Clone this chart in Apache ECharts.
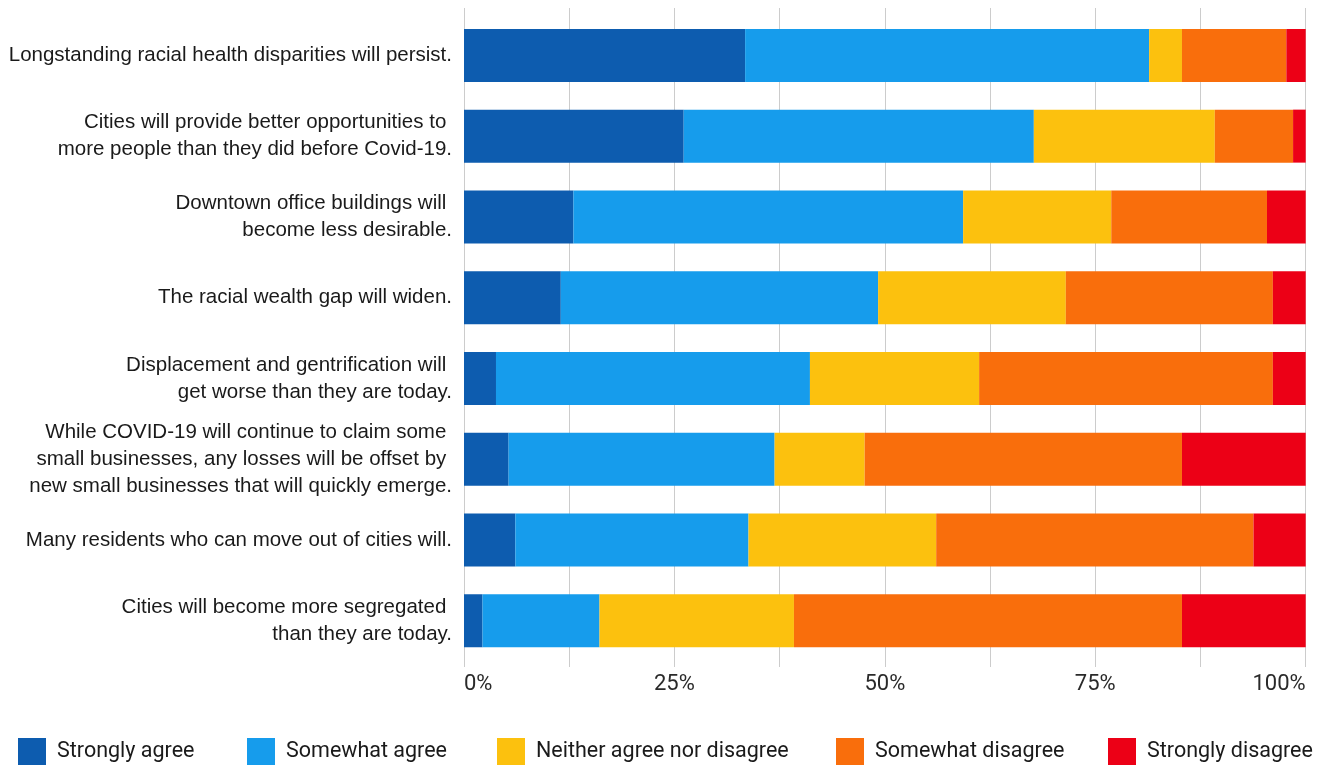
<!DOCTYPE html>
<html>
<head>
<meta charset="utf-8">
<script src="https://cdn.jsdelivr.net/npm/echarts@6/dist/echarts.min.js"></script>
<style>
html,body{margin:0;padding:0;background:#fff;}
#chart{width:1331px;height:765px;}
</style>
</head>
<body>
<div id="chart"></div>
<script>
const categories = [
  "Longstanding racial health disparities will persist.",
  "Cities will provide better opportunities to \nmore people than they did before Covid-19.",
  "Downtown office buildings will \nbecome less desirable.",
  "The racial wealth gap will widen.",
  "Displacement and gentrification will \nget worse than they are today.",
  "While COVID-19 will continue to claim some \nsmall businesses, any losses will be offset by \nnew small businesses that will quickly emerge.",
  "Many residents who can move out of cities will.",
  "Cities will become more segregated \nthan they are today."
];
const seriesNames = ["Strongly agree", "Somewhat agree", "Neither agree nor disagree", "Somewhat disagree", "Strongly disagree"];
const stronglyAgree    = [33.4, 26.1, 13.0, 11.5, 3.8, 5.3, 6.1, 2.2];
const somewhatAgree    = [48.0, 41.6, 46.3, 37.7, 37.3, 31.6, 27.7, 13.9];
const neither          = [3.9, 21.5, 17.6, 22.3, 20.1, 10.7, 22.3, 23.1];
const somewhatDisagree = [12.4, 9.3, 18.5, 24.6, 34.9, 37.7, 37.7, 46.1];
const stronglyDisagree = [2.3, 1.5, 4.6, 3.9, 3.9, 14.7, 6.2, 14.7];
const xTicks = [0, 25, 50, 75, 100];

const colors = ["#0D5CAF", "#169CEC", "#FCC10E", "#F96E0C", "#EC0016"];
const values = [stronglyAgree, somewhatAgree, neither, somewhatDisagree, stronglyDisagree];
const legendLefts = [18, 247, 497, 836, 1108];

function hasFont(name) {
  const c = document.createElement('canvas').getContext('2d');
  c.font = '40px monospace';
  const a = c.measureText('abcdefghijklmnopWWW').width;
  c.font = '40px "' + name + '", monospace';
  return c.measureText('abcdefghijklmnopWWW').width !== a;
}
const narrow = hasFont('Liberation Sans Narrow');
const yFont = narrow ? { fontFamily: '"Liberation Sans Narrow"', fontSize: 25, lineHeight: 27 }
                     : { fontFamily: '"Liberation Sans", Arial', fontSize: 20.5, lineHeight: 27 };

const chart = echarts.init(document.getElementById('chart'), null, { renderer: 'canvas' });
const axisCommon = {
  type: 'value', min: 0, max: 100, interval: 12.5
};
chart.setOption({
  animation: false,
  backgroundColor: '#fff',
  grid: { left: 464, right: 25.3, top: 15, bottom: 104, containLabel: false },
  legend: seriesNames.map((name, i) => ({
    data: [name],
    left: legendLefts[i], top: 738,
    padding: 0,
    itemWidth: 28, itemHeight: 28,
    icon: 'rect',
    selectedMode: false,
    textStyle: { fontFamily: 'Roboto', fontSize: 21.5, color: '#1a1a1a', padding: [0, 0, 0, 6] }
  })),
  xAxis: [
    Object.assign({}, axisCommon, {
      position: 'bottom',
      axisLine: { show: false },
      axisTick: { show: true, length: 6, lineStyle: { color: '#cccccc', width: 1 } },
      splitLine: { show: true, lineStyle: { color: '#cccccc', width: 1 } },
      axisLabel: {
        margin: 12,
        fontFamily: 'Roboto', fontSize: 22, color: '#2a2a2a',
        alignMinLabel: 'left', alignMaxLabel: 'right',
        formatter: v => xTicks.indexOf(v) >= 0 ? v + '%' : ''
      }
    }),
    Object.assign({}, axisCommon, {
      position: 'top',
      axisLine: { show: false },
      axisTick: { show: true, length: 7, lineStyle: { color: '#cccccc', width: 1 } },
      splitLine: { show: false },
      axisLabel: { show: false }
    })
  ],
  yAxis: {
    type: 'category',
    data: categories,
    inverse: true,
    axisLine: { show: false },
    axisTick: { show: false },
    axisLabel: Object.assign({ margin: 12, color: '#1a1a1a', align: 'right' }, yFont)
  },
  series: seriesNames.map((name, i) => ({
    name: name,
    type: 'bar',
    stack: 'total',
    barWidth: 53,
    xAxisIndex: 0,
    itemStyle: { color: colors[i] },
    data: values[i]
  }))
});
</script>
</body>
</html>
